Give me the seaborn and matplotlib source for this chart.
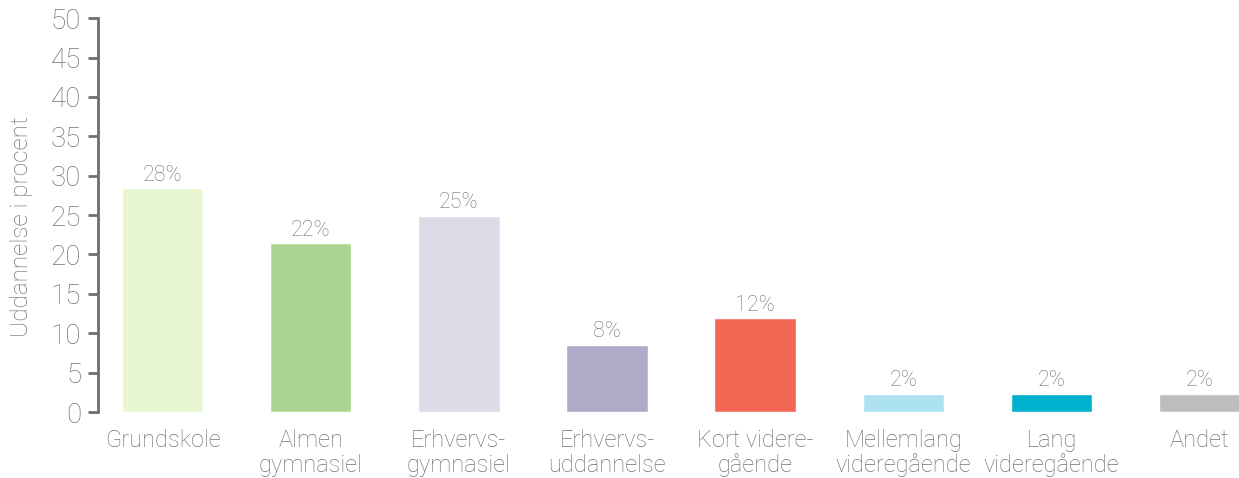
import matplotlib
matplotlib.use("Agg")
import matplotlib.pyplot as plt
import seaborn as sns
import pandas as pd

# --- data ---
categories = ["Grundskole", "Almen\ngymnasiel", "Erhvervs-\ngymnasiel", "Erhvervs-\nuddannelse",
              "Kort videre-\ngående", "Mellemlang\nvideregående", "Lang\nvideregående", "Andet"]
values = [28.4, 21.4, 24.9, 8.5, 11.9, 2.3, 2.3, 2.3]
value_labels = ["28%", "22%", "25%", "8%", "12%", "2%", "2%", "2%"]
colors = ["#e8f7d2", "#acd592", "#dddbe8", "#aeaac8", "#f26855", "#ade3f0", "#00b2cf", "#bdbdbd"]

df = pd.DataFrame({"Uddannelse": categories, "Procent": values})

sns.set_theme(style="white")
plt.rcParams["font.family"] = ["Roboto", "DejaVu Sans"]
text_grey = "#747474"
axis_grey = "#6e6e70"

fig = plt.figure(figsize=(12.39, 4.78), dpi=100)
ax = fig.add_axes([0.079, 0.138, 0.922, 0.824])

sns.barplot(data=df, x="Uddannelse", y="Procent", hue="Uddannelse",
            palette=colors, legend=False, width=0.55, saturation=1, ax=ax)

for cont, lab in zip(ax.containers, value_labels):
    ax.bar_label(cont, labels=[lab], padding=2, fontsize=15.5, color=text_grey, fontweight="light")

ax.set_ylim(0, 50)
ax.set_xlim(-0.436, 7.274)
ax.set_yticks(range(0, 51, 5))
ax.set_xlabel("")
ax.set_ylabel("Uddannelse i procent", fontsize=17.5, color=text_grey, fontweight="light")
ax.yaxis.set_label_coords(-0.057, 0.47)

for side in ["top", "right", "bottom"]:
    ax.spines[side].set_visible(False)
ax.spines["left"].set_color(axis_grey)
ax.spines["left"].set_linewidth(2)

ax.tick_params(axis="y", which="major", left=True, length=7, width=2, color=axis_grey,
               labelsize=20, labelcolor=text_grey, pad=5)
ax.tick_params(axis="x", bottom=False, labelsize=17, labelcolor=text_grey, pad=6)
for t in ax.get_yticklabels() + ax.get_xticklabels():
    t.set_fontweight("light")
for t in ax.get_xticklabels():
    t.set_linespacing(1.1)

fig.savefig("out.png", dpi=100)
